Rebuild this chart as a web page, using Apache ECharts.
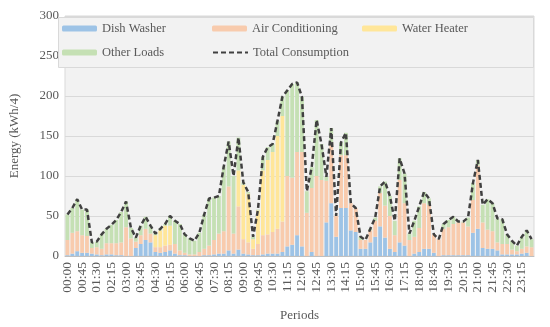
<!DOCTYPE html>
<html>
<head>
<meta charset="utf-8">
<script src="https://cdn.jsdelivr.net/npm/echarts@6/dist/echarts.min.js"></script>
<style>html,body{margin:0;padding:0;background:#fff;}#c{width:550px;height:327px;}</style>
</head>
<body>
<div id="c"></div>
<script>
const periods = [
'00:00','00:15','00:30','00:45','01:00','01:15','01:30','01:45','02:00','02:15','02:30','02:45',
'03:00','03:15','03:30','03:45','04:00','04:15','04:30','04:45','05:00','05:15','05:30','05:45',
'06:00','06:15','06:30','06:45','07:00','07:15','07:30','07:45','08:00','08:15','08:30','08:45',
'09:00','09:15','09:30','09:45','10:00','10:15','10:30','10:45','11:00','11:15','11:30','11:45',
'12:00','12:15','12:30','12:45','13:00','13:15','13:30','13:45','14:00','14:15','14:30','14:45',
'15:00','15:15','15:30','15:45','16:00','16:15','16:30','16:45','17:00','17:15','17:30','17:45',
'18:00','18:15','18:30','18:45','19:00','19:15','19:30','19:45','20:00','20:15','20:30','20:45',
'21:00','21:15','21:30','21:45','22:00','22:15','22:30','22:45','23:00','23:15','23:30','23:45'];

const dishWasher = [
1,3,6,4,4,3,2,1,2,2, 1,1,0,0,10,15,20,17,5,4, 5,7,3,1,1,0,0,0,1,1,
2,3,3,7,3,8,3,2,1,1, 2,3,3,3,5,12,14,26,12,0, 5,0,0,42,66,24,60,60,32,30,
9,9,17,24,37,23,9,5,17,13, 0,3,5,9,9,4,0,1,1,1, 1,1,1,29,34,10,9,9,7,2, 2,2,2,3,4,0];

const airConditioning = [
19,26,25,22,21,7,9,8,14,14, 15,16,36,22,8,11,14,11,6,7, 8,7,12,6,3,2,2,5,8,12,
18,25,28,80,25,54,18,15,8,14, 24,24,27,31,38,88,84,104,118,54, 80,100,95,52,76,26,66,66,34,30,
11,11,15,20,42,40,41,21,78,53, 20,21,30,57,55,23,21,33,35,39, 41,41,36,41,79,32,24,22,10,13, 13,6,4,6,8,11];

const waterHeater = [
0,0,0,0,0,0,0,0,0,0, 0,0,0,0,0,0,0,0,15,21, 25,24,0,0,0,0,0,0,0,0,
0,0,0,0,0,45,68,61,12,42, 81,93,100,116,132,0,0,0,0,0, 0,0,0,0,0,0,0,0,0,0,
0,0,0,0,0,0,0,0,0,0, 0,0,0,0,0,0,0,0,0,0, 0,0,0,0,0,0,0,0,0,0, 0,0,0,0,0,0];

const otherLoads = [
32,31,40,32,33,7,7,18,18,23, 29,38,32,13,5,12,15,10,2,2, 2,12,29,33,23,20,17,24,43,59,
53,47,81,56,72,41,3,2,3,1, 17,16,10,19,24,107,117,87,69,27, 26,70,45,5,18,0,16,28,0,0,
4,0,2,4,8,30,25,18,27,37, 8,20,27,14,8,0,0,6,9,9, 1,1,11,21,7,22,38,35,30,31, 12,11,7,15,20,10];

const totalConsumption = [
52,60,71,58,58,17,18,27,34,39, 45,55,68,35,23,38,49,38,28,34, 40,50,44,40,27,22,19,29,52,72,
73,75,112,143,100,148,92,80,24,58, 124,136,140,169,199,207,215,217,199,81, 111,170,140,99,160,50,142,154,66,60,
24,20,34,48,87,93,75,44,122,103, 28,44,62,80,72,27,21,40,45,49, 43,43,48,91,120,64,71,66,47,46, 27,19,13,24,32,21];

const yTicks = [0, 50, 100, 150, 200, 250, 300];

const FONT = '"Liberation Serif", "Times New Roman", serif';
const TXT = '#595959';
const chart = echarts.init(document.getElementById('c'), null, {renderer: 'canvas'});

const barSeries = (name, data, color) => ({
  name, type: 'bar', stack: 'e', data, barCategoryGap: '22%',
  itemStyle: {color}, emphasis: {disabled: true}, z: 3
});

const legendItem = (item, left, top) => ({
  data: [item], left, top, itemWidth: 35, itemHeight: 6, itemGap: 0,
  padding: 0, selectedMode: false, z: 5,
  textStyle: {fontFamily: FONT, fontSize: 12.5, color: TXT}
});

chart.setOption({
  animation: false,
  backgroundColor: '#fff',
  textStyle: {fontFamily: FONT},
  grid: {left: 57, right: 16, top: 16, bottom: 66, show: true,
         backgroundColor: '#f2f2f2', borderColor: '#d9d9d9', borderWidth: 1},
  graphic: [{type: 'rect', left: 58, top: 17, z: 4,
             shape: {width: 475, height: 50},
             style: {fill: '#f2f2f2', stroke: '#d9d9d9', lineWidth: 1}}],
  legend: [
    legendItem('Dish Washer', 62, 22),
    legendItem('Air Conditioning', 212, 22),
    legendItem('Water Heater', 362, 22),
    legendItem('Other Loads', 62, 46),
    legendItem({name: 'Total Consumption', itemStyle: {opacity: 0}}, 212, 46)
  ],
  xAxis: {
    type: 'category', data: periods, name: 'Periods', nameLocation: 'middle', nameGap: 53,
    nameTextStyle: {fontFamily: FONT, fontSize: 13, color: TXT},
    axisLine: {show: true, lineStyle: {color: '#bfbfbf'}},
    axisTick: {show: false},
    axisLabel: {interval: 2, rotate: 90, fontFamily: FONT, fontSize: 13.5, color: TXT, margin: 6}
  },
  yAxis: {
    type: 'value', min: 0, max: 300, interval: 50,
    name: 'Energy (kWh/4)', nameLocation: 'middle', nameGap: 44,
    nameTextStyle: {fontFamily: FONT, fontSize: 13, color: TXT},
    axisLine: {show: false}, axisTick: {show: false},
    axisLabel: {fontFamily: FONT, fontSize: 13, color: TXT, margin: 6,
                formatter: v => yTicks.includes(v) ? String(v) : ''},
    splitLine: {lineStyle: {color: '#d9d9d9', width: 1}}
  },
  series: [
    barSeries('Dish Washer', dishWasher, '#9dc3e6'),
    barSeries('Air Conditioning', airConditioning, '#f8cbad'),
    barSeries('Water Heater', waterHeater, '#ffe699'),
    barSeries('Other Loads', otherLoads, '#c5e0b4'),
    {name: 'Total Consumption', type: 'line', data: totalConsumption, symbol: 'none',
     lineStyle: {color: '#404040', width: 2.5, type: [5, 3]}, itemStyle: {color: '#404040'},
     emphasis: {disabled: true}, z: 6}
  ]
});
</script>
</body>
</html>
